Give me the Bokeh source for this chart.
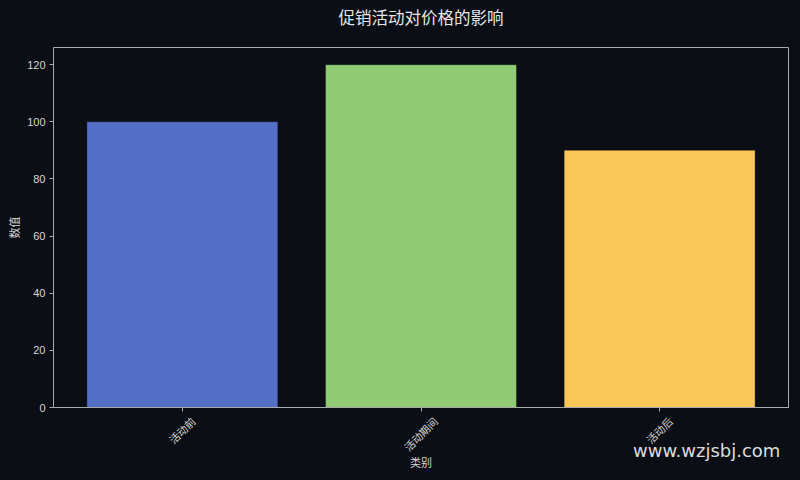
from bokeh.plotting import figure
from bokeh.models import Range1d, FixedTicker, SingleIntervalTicker, Label, GlobalInlineStyleSheet
from bokeh.embed import file_html
from bokeh.resources import INLINE
import math

# ---- data ----
categories = ["活动前", "活动期间", "活动后"]
values = [100, 120, 90]
bar_colors = ["#5470c6", "#91cc75", "#fac858"]
title_text = "促销活动对价格的影响"
x_label = "类别"
y_label = "数值"
watermark = "www.wzjsbj.com"

BG = "#0b0e14"
FRAME = "#a9a9a9"
TXT = "#d6d6d6"
FONT = "'Liberation Sans', 'Noto Sans CJK SC', sans-serif"
CJK = "'Noto Sans CJK SC', sans-serif"

X0, X1 = -0.54, 2.54
Y0, Y1 = 0, 126
FRAME_W = 800 - 53 - 12
idx = list(range(len(categories)))

p = figure(width=800, height=480, output_backend="svg", toolbar_location=None,
           x_range=Range1d(X0, X1), y_range=Range1d(Y0, Y1),
           min_border_left=53, min_border_right=12, min_border_top=47, min_border_bottom=73)

p.background_fill_color = BG
p.border_fill_color = BG
p.outline_line_color = FRAME
p.outline_line_width = 1
p.xgrid.grid_line_color = None
p.ygrid.grid_line_color = None

p.vbar(x=idx, top=values, width=0.8, bottom=0, fill_color=bar_colors,
       line_color="#0b0e14", line_alpha=0.35, line_width=1)

# title
p.title.text = title_text
p.title.align = "center"
p.title.text_font = CJK
p.title.text_font_size = "16.5px"
p.title.text_font_style = "normal"
p.title.text_color = "#e6e6e6"
p.title.standoff = -4

# axes
for ax in (p.xaxis[0], p.yaxis[0]):
    ax.axis_line_color = FRAME
    ax.major_tick_line_color = FRAME
    ax.minor_tick_line_color = None
    ax.major_tick_out = 4
    ax.major_tick_in = 0
    ax.major_label_text_color = TXT
    ax.major_label_text_font = FONT
    ax.axis_label_text_color = TXT
    ax.axis_label_text_font = CJK
    ax.axis_label_text_font_size = "11px"
    ax.axis_label_text_font_style = "normal"

# rotated category labels, centred under their ticks: Bokeh anchors a rotated
# label at its right end, so the label tick is moved by half the rotated width
XFONT_PX = 10.5
px_per_unit = FRAME_W / (X1 - X0)
label_ticks = [i + len(c) * XFONT_PX / 2 * math.cos(math.pi / 4) / px_per_unit
               for i, c in zip(idx, categories)]
p.xaxis.ticker = FixedTicker(ticks=label_ticks, minor_ticks=idx)
p.xaxis.major_label_overrides = {t: c for t, c in zip(label_ticks, categories)}
p.xaxis.major_label_orientation = math.pi / 4
p.xaxis.major_label_text_font_size = f"{XFONT_PX}px"
p.xaxis.major_tick_line_color = None
p.xaxis.minor_tick_line_color = FRAME
p.xaxis.minor_tick_out = 4
p.xaxis.minor_tick_in = 0
p.xaxis.major_label_standoff = 8
p.xaxis.axis_label = x_label
p.xaxis.axis_label_standoff = -7

p.yaxis.ticker = SingleIntervalTicker(interval=20)
p.yaxis.major_label_text_font_size = "11px"
p.yaxis.major_label_standoff = 4
p.yaxis.axis_label = y_label
p.yaxis.axis_label_standoff = 2

# watermark (placed in a side panel so that it is not clipped to the frame)
p.add_layout(Label(x=2.506, y=-15.05, text=watermark, text_align="right",
                   text_baseline="alphabetic", text_font="'DejaVu Sans', sans-serif",
                   text_font_size="18px", text_color="#dcdcdc"), "above")

p.stylesheets = [GlobalInlineStyleSheet(css=f"html, body {{ background: {BG}; }}")]

open("out.html", "w").write(file_html(p, INLINE))
